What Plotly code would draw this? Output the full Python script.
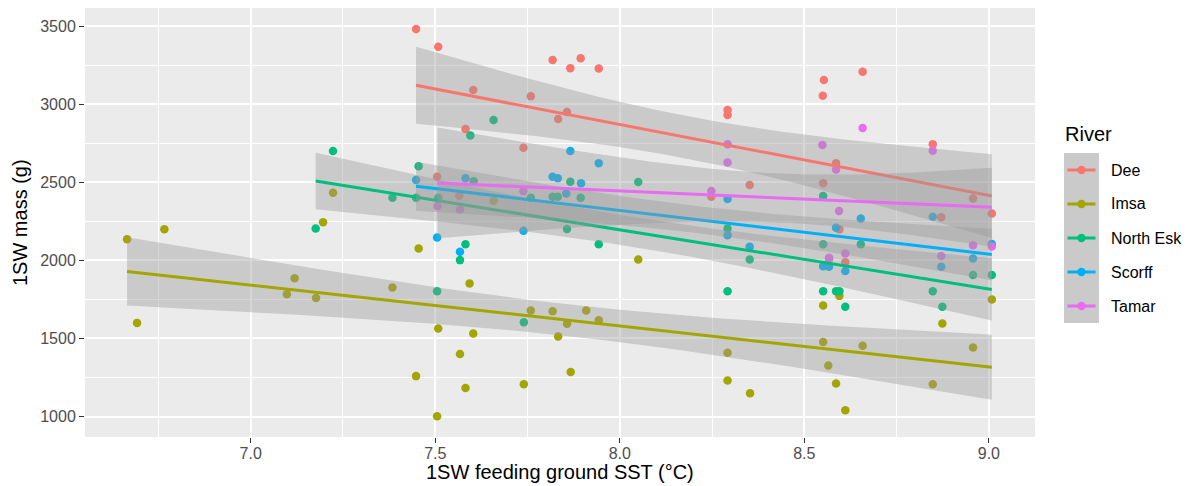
import numpy as np
import plotly.graph_objects as go

rivers = ["Dee", "Imsa", "North Esk", "Scorff", "Tamar"]
colors = ["#F8766D", "#A3A500", "#00BF7D", "#00B0F6", "#E76BF3"]

dee_sst = [7.448, 7.508, 7.505, 7.565, 7.582, 7.603, 7.739, 7.759, 7.818, 7.833, 7.857, 7.866, 7.894, 7.943,
           8.248, 8.292, 8.292, 8.352, 8.550, 8.553, 8.551, 8.567, 8.586, 8.595, 8.611, 8.658, 8.848, 8.871,
           8.957, 9.008]
dee_mass = [3483, 3369, 2536, 2414, 2842, 3092, 2722, 3051, 3284, 2906, 2951, 3231, 3295, 3229,
            2408, 2963, 2931, 2483, 3055, 3156, 2494, 2010, 2622, 2199, 1988, 3209, 2745, 2276,
            2397, 2301]

imsa_sst = [6.665, 6.692, 6.766, 7.098, 7.119, 7.177, 7.196, 7.223, 7.384, 7.448, 7.455, 7.505, 7.508, 7.567,
            7.582, 7.593, 7.603, 7.658, 7.740, 7.759, 7.818, 7.833, 7.857, 7.867, 7.909, 7.943, 8.050, 8.292,
            8.292, 8.353, 8.551, 8.551, 8.565, 8.586, 8.595, 8.611, 8.658, 8.848, 8.874, 8.957, 9.008]
imsa_mass = [2136, 1600, 2200, 1784, 1886, 1760, 2245, 2433, 1827, 1259, 2077, 1002, 1564, 1401,
             1183, 1853, 1532, 2382, 1207, 1679, 1675, 1513, 1594, 1286, 1679, 1617, 2006, 1408,
             1231, 1149, 1712, 1478, 1327, 1212, 1773, 1040, 1453, 1207, 1596, 1442, 1750]

nesk_sst = [7.176, 7.223, 7.384, 7.448, 7.455, 7.505, 7.508, 7.567, 7.582, 7.595, 7.604, 7.658, 7.740, 7.759,
            7.818, 7.832, 7.857, 7.866, 7.894, 7.943, 8.050, 8.292, 8.292, 8.352, 8.551, 8.551, 8.551, 8.586,
            8.595, 8.611, 8.653, 8.848, 8.874, 8.957, 9.008]
nesk_mass = [2205, 2701, 2401, 2401, 2604, 1803, 2401, 2002, 2103, 2801, 2508, 2899, 1604, 2401,
             2408, 2408, 2201, 2504, 2401, 2103, 2502, 2205, 1803, 2006, 2412, 2103, 1803, 1803,
             1803, 1703, 2103, 1803, 1703, 1906, 1906]

scorff_sst = [7.448, 7.505, 7.567, 7.582, 7.739, 7.818, 7.832, 7.855, 7.866, 7.895, 7.943, 8.292, 8.292,
              8.352, 8.551, 8.567, 8.586, 8.611, 8.653, 8.848, 8.871, 8.957, 9.008]
scorff_mass = [2515, 2147, 2055, 2526, 2190, 2536, 2526, 2429, 2701, 2494, 2622, 2393, 2162,
               2087, 1963, 1959, 2209, 1933, 2269, 2280, 1959, 2013, 2105]

tamar_sst = [7.506, 7.567, 7.739, 8.248, 8.292, 8.292, 8.549, 8.586, 8.594, 8.567, 8.611, 8.658, 8.848,
             8.871, 8.957, 9.008]
tamar_mass = [2348, 2327, 2444, 2444, 2744, 2628, 2739, 2583, 2316, 2017, 2045, 2848, 2703,
              2028, 2098, 2090]

sst = [dee_sst, imsa_sst, nesk_sst, scorff_sst, tamar_sst]
mass = [dee_mass, imsa_mass, nesk_mass, scorff_mass, tamar_mass]

x_ticks = [7.0, 7.5, 8.0, 8.5, 9.0]
y_ticks = [1000, 1500, 2000, 2500, 3000, 3500]

# pixel layout
W, H = 1190, 486
L, R, T, B = 84.5, 1035, 8, 437
x_range = [6.551, 9.125]
y_range = [869, 3617]


def t975(df):
    z = 1.959964
    return (z + (z**3 + z) / (4 * df) + (5 * z**5 + 16 * z**3 + 3 * z) / (96 * df**2)
            + (3 * z**7 + 19 * z**5 + 17 * z**3 - 15 * z) / (384 * df**3))


def lm_fit(x, y):
    x = np.asarray(x, float)
    y = np.asarray(y, float)
    n = len(x)
    b, a = np.polyfit(x, y, 1)
    resid = y - (a + b * x)
    s = np.sqrt(np.sum(resid**2) / (n - 2))
    xbar = x.mean()
    sxx = np.sum((x - xbar) ** 2)
    xs = np.linspace(x.min(), x.max(), 80)
    fit = a + b * xs
    se = s * np.sqrt(1 / n + (xs - xbar) ** 2 / sxx)
    t = t975(n - 2)
    return xs, fit, fit - t * se, fit + t * se


fig = go.Figure()

for name, col, xv, yv in zip(rivers, colors, sst, mass):
    fig.add_trace(go.Scatter(x=xv, y=yv, mode="markers", name=name, showlegend=False,
                             marker=dict(color=col, size=8.5, line=dict(width=0))))

for name, col, xv, yv in zip(rivers, colors, sst, mass):
    xs, fit, lo, hi = lm_fit(xv, yv)
    fig.add_trace(go.Scatter(x=np.concatenate([xs, xs[::-1]]), y=np.concatenate([hi, lo[::-1]]),
                             mode="lines", fill="toself", fillcolor="rgba(153,153,153,0.4)",
                             line=dict(width=0), hoverinfo="skip", showlegend=False))
    fig.add_trace(go.Scatter(x=xs, y=fit, mode="lines", line=dict(color=col, width=3),
                             showlegend=False, hoverinfo="skip"))

FONT = "Liberation Sans, Arial, sans-serif"
TICK_SIZE = 16
TITLE_SIZE = 20


def px_x(px):
    return (px - L) / (R - L)


def px_y(py):
    return (B - py) / (B - T)


shapes = []
annotations = []

# axis titles
annotations.append(dict(text="1SW feeding ground SST (°C)", x=px_x((L + R) / 2), y=px_y(472),
                        xref="paper", yref="paper", showarrow=False, xanchor="center", yanchor="middle",
                        font=dict(family=FONT, size=TITLE_SIZE, color="black")))
annotations.append(dict(text="1SW mass (g)", x=px_x(19), y=px_y((T + B) / 2), textangle=-90,
                        xref="paper", yref="paper", showarrow=False, xanchor="center", yanchor="middle",
                        font=dict(family=FONT, size=TITLE_SIZE, color="black")))

# legend
annotations.append(dict(text="River", x=px_x(1063), y=px_y(134), xref="paper", yref="paper",
                        showarrow=False, xanchor="left", yanchor="middle",
                        font=dict(family=FONT, size=TITLE_SIZE, color="black")))
key_top = 153
key_h = 34
for i, (name, col) in enumerate(zip(rivers, colors)):
    y0 = key_top + i * key_h
    yc = y0 + key_h / 2
    shapes.append(dict(type="rect", xref="paper", yref="paper", x0=px_x(1064), x1=px_x(1099),
                       y0=px_y(y0 + key_h), y1=px_y(y0), fillcolor="#EBEBEB", line=dict(width=0), layer="above"))
    shapes.append(dict(type="rect", xref="paper", yref="paper", x0=px_x(1064), x1=px_x(1099),
                       y0=px_y(y0 + key_h), y1=px_y(y0), fillcolor="rgba(153,153,153,0.4)",
                       line=dict(width=0), layer="above"))
    shapes.append(dict(type="line", xref="paper", yref="paper", x0=px_x(1067.5), x1=px_x(1095.5),
                       y0=px_y(yc), y1=px_y(yc), line=dict(color=col, width=3), layer="above"))
    shapes.append(dict(type="circle", xref="paper", yref="paper", x0=px_x(1081.5 - 4.2), x1=px_x(1081.5 + 4.2),
                       y0=px_y(yc + 4.2), y1=px_y(yc - 4.2), fillcolor=col, line=dict(width=0), layer="above"))
    annotations.append(dict(text=name, x=px_x(1109), y=px_y(yc), xref="paper", yref="paper",
                            showarrow=False, xanchor="left", yanchor="middle",
                            font=dict(family=FONT, size=TICK_SIZE, color="black")))

fig.update_layout(
    width=W, height=H,
    margin=dict(l=L, r=W - R, t=T, b=H - B, pad=0),
    paper_bgcolor="white", plot_bgcolor="#EBEBEB",
    font=dict(family=FONT, size=TICK_SIZE, color="#4D4D4D"),
    showlegend=False,
    shapes=shapes, annotations=annotations,
    xaxis=dict(range=x_range, tickmode="array", tickvals=x_ticks, ticktext=[f"{v:.1f}" for v in x_ticks],
               showgrid=True, gridcolor="white", gridwidth=1.9, zeroline=False, showline=False,
               ticks="outside", ticklen=5, tickwidth=1.2, tickcolor="#333333", ticklabelstandoff=-3,
               tickfont=dict(family=FONT, size=TICK_SIZE, color="#4D4D4D"),
               minor=dict(dtick=0.25, tick0=0, showgrid=True, gridcolor="white", gridwidth=0.9, ticks="")),
    yaxis=dict(range=y_range, tickmode="array", tickvals=y_ticks, ticktext=[str(v) for v in y_ticks],
               showgrid=True, gridcolor="white", gridwidth=1.9, zeroline=False, showline=False,
               ticks="outside", ticklen=5, tickwidth=1.2, tickcolor="#333333",
               tickfont=dict(family=FONT, size=TICK_SIZE, color="#4D4D4D"),
               minor=dict(dtick=250, tick0=0, showgrid=True, gridcolor="white", gridwidth=0.9, ticks="")),
)

fig.write_html("out.html")
